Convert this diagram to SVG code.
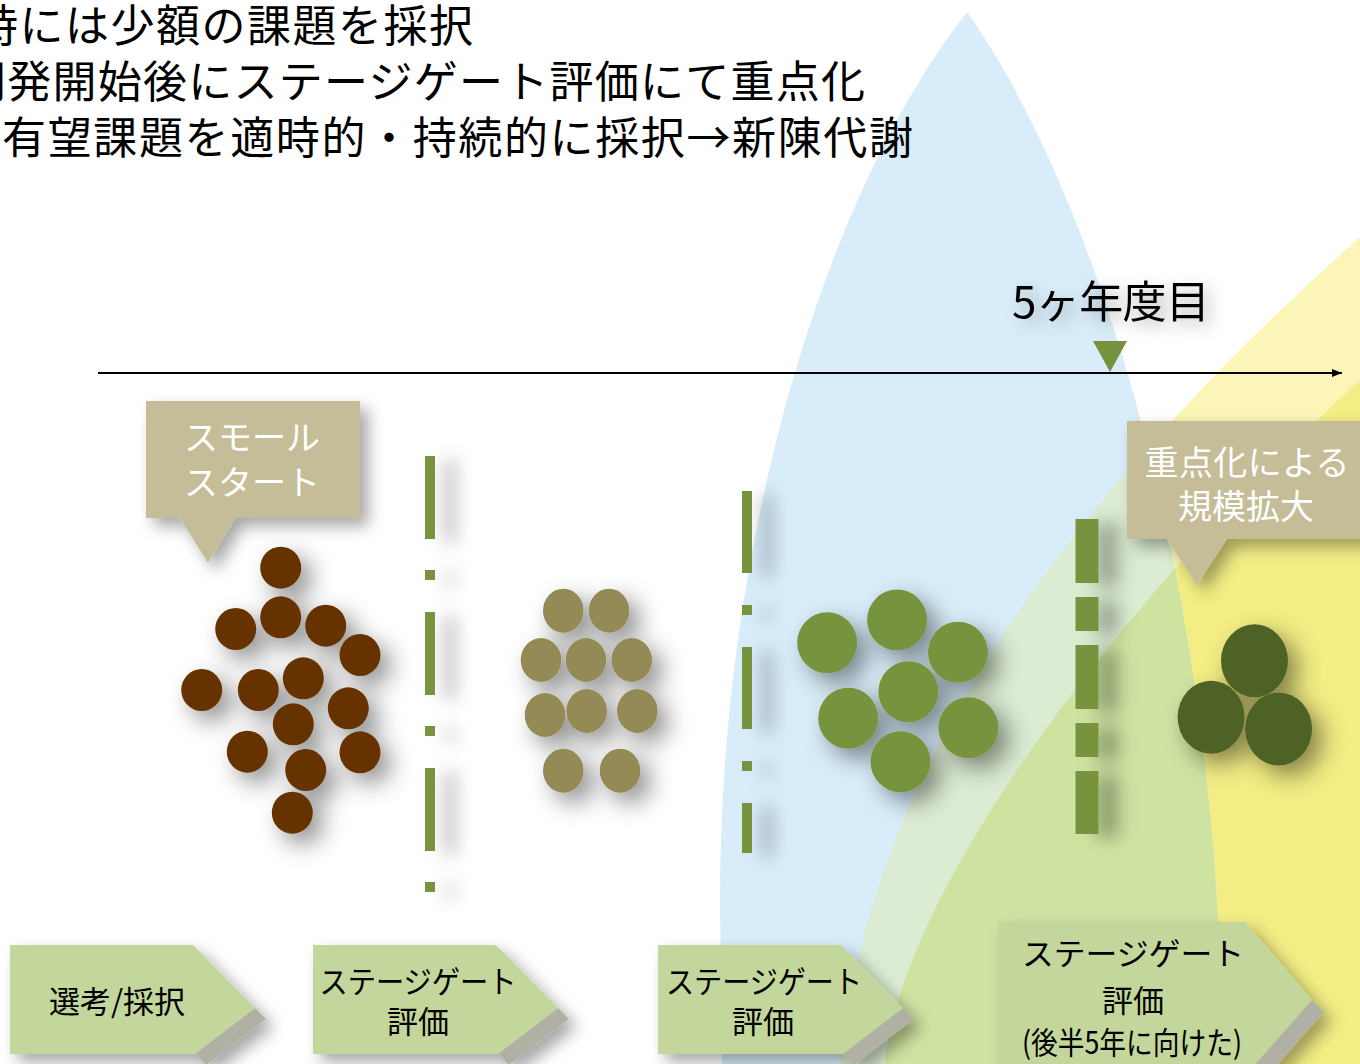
<svg xmlns="http://www.w3.org/2000/svg" width="1360" height="1064" viewBox="0 0 1360 1064">
<defs>
<style>
.jp{font-family:"Noto Sans CJK JP","Noto Sans",sans-serif}
.title{font-size:44px;fill:#000}
.call{font-size:34px;fill:#fff;text-anchor:middle}
.cbox{fill:#c4bd97}
.box{fill:#c3d69b}
.bevel{fill:#b0b0a4}
.lbl{font-size:31px;fill:#000;text-anchor:middle}
.gate{stroke:#77933c;fill:none}
.brown{fill:#663300}
.olive{fill:#948a54}
.green{fill:#77933c}
.dark{fill:#4f6228}
</style>
<path id="leafBlue" d="M967,12 C820,200 720,550 720,900 L722,1064 L1222,1064 C1222,600 1100,200 967,12 Z"/>
<path id="leafOuter" d="M839,1064 C870,800 1020,540 1360,237 L1360,1064 Z"/>
<path id="leafInner" d="M885,1064 C900,900 1100,620 1360,380 L1360,1064 Z"/>
<clipPath id="blueClip"><use href="#leafBlue"/></clipPath>
<filter id="sh" x="-40%" y="-40%" width="180%" height="180%"><feDropShadow dx="10" dy="10" stdDeviation="12" flood-color="#000" flood-opacity="0.45"/></filter>
<filter id="shLine" filterUnits="userSpaceOnUse" x="0" y="0" width="1360" height="1064"><feDropShadow dx="20" dy="4" stdDeviation="9" flood-color="#000" flood-opacity="0.3"/></filter>
<filter id="shBox" x="-20%" y="-30%" width="140%" height="160%"><feDropShadow dx="8" dy="8" stdDeviation="8" flood-color="#000" flood-opacity="0.35"/></filter>
<filter id="shText" x="-20%" y="-40%" width="140%" height="180%"><feDropShadow dx="6" dy="6" stdDeviation="8" flood-color="#000" flood-opacity="0.3"/></filter>
<marker id="arr" viewBox="0 0 10 8" refX="10" refY="4" markerWidth="10" markerHeight="8" markerUnits="userSpaceOnUse" orient="auto"><path d="M0,0 L10,4 L0,8 Z" fill="#000"/></marker>
</defs>

<g id="background">
<rect width="1360" height="1064" fill="#fff"/>
<use href="#leafOuter" fill="#fbf6b8"/>
<use href="#leafInner" fill="#f3ed84"/>
<use href="#leafBlue" fill="#d8edf9"/>
<g clip-path="url(#blueClip)">
<use href="#leafOuter" fill="#dbecd3"/>
<use href="#leafInner" fill="#cfe3a1"/>
</g>
</g>

<g id="title" class="jp title">
<text x="-26" y="42" textLength="499" lengthAdjust="spacing">時には少額の課題を採択</text>
<text x="-38" y="98" textLength="903" lengthAdjust="spacing">開発開始後にステージゲート評価にて重点化</text>
<text x="2" y="154" textLength="911" lengthAdjust="spacing">有望課題を適時的・持続的に採択→新陳代謝</text>
</g>

<g id="connectors">
<line x1="98" y1="373" x2="1342" y2="373" stroke="#000" stroke-width="2" marker-end="url(#arr)"/>
</g>

<g id="year5">
<text class="jp" x="1012" y="318" font-size="44" filter="url(#shText)" textLength="198" lengthAdjust="spacing">5ヶ年度目</text>
<path d="M1093,341 L1127,341 L1110,372 Z" fill="#77923c"/>
</g>

<g id="gate1" filter="url(#shLine)"><line class="gate" x1="430" y1="456" x2="430" y2="892" stroke-width="10" stroke-dasharray="83 31 10 32"/></g>
<g id="gate2" filter="url(#shLine)"><line class="gate" x1="747" y1="491" x2="747" y2="853" stroke-width="10" stroke-dasharray="82 32 10 32"/></g>
<g id="gate3" filter="url(#shLine)"><line class="gate" x1="1087" y1="519" x2="1087" y2="834" stroke-width="23" stroke-dasharray="64 14 34 14"/></g>

<g id="callout-small-start">
<path class="cbox" filter="url(#shBox)" d="M146,401 H360 V518 H235 L208,563 L180,518 H146 Z"/>
<text class="jp call" x="252" y="450">スモール</text>
<text class="jp call" x="252" y="495">スタート</text>
</g>

<g id="callout-scale-up">
<path class="cbox" filter="url(#shBox)" d="M1127,421 H1370 V539 H1227 L1197,585 L1167,539 H1127 Z"/>
<text class="jp call" x="1247" y="475" textLength="205" lengthAdjust="spacing">重点化による</text>
<text class="jp call" x="1246" y="519" font-size="35">規模拡大</text>
</g>

<g id="cluster-brown" class="brown" filter="url(#sh)">
<ellipse cx="280.7" cy="567.7" rx="20.5" ry="21"/>
<ellipse cx="235.7" cy="629" rx="20.5" ry="21"/>
<ellipse cx="280.7" cy="617.3" rx="20.5" ry="21"/>
<ellipse cx="325.7" cy="625.7" rx="20.5" ry="21"/>
<ellipse cx="360" cy="655" rx="20.5" ry="21"/>
<ellipse cx="201.7" cy="690" rx="20.5" ry="21"/>
<ellipse cx="258.3" cy="690" rx="20.5" ry="21"/>
<ellipse cx="303.3" cy="678.3" rx="20.5" ry="21"/>
<ellipse cx="348.3" cy="708.3" rx="20.5" ry="21"/>
<ellipse cx="293.3" cy="724.3" rx="20.5" ry="21"/>
<ellipse cx="247.3" cy="751.7" rx="20.5" ry="21"/>
<ellipse cx="360" cy="752.3" rx="20.5" ry="21"/>
<ellipse cx="305.7" cy="770" rx="20.5" ry="21"/>
<ellipse cx="292.3" cy="812.7" rx="20.5" ry="21"/>
</g>

<g id="cluster-olive" class="olive" filter="url(#sh)">
<ellipse cx="563.3" cy="610.7" rx="20.3" ry="22"/>
<ellipse cx="609" cy="610.7" rx="20.3" ry="22"/>
<ellipse cx="541" cy="660" rx="20.3" ry="22"/>
<ellipse cx="586" cy="660" rx="20.3" ry="22"/>
<ellipse cx="631.7" cy="660" rx="20.3" ry="22"/>
<ellipse cx="545" cy="715" rx="20.3" ry="22"/>
<ellipse cx="586.7" cy="711" rx="20.3" ry="22"/>
<ellipse cx="637.3" cy="711" rx="20.3" ry="22"/>
<ellipse cx="563.3" cy="770.7" rx="20.3" ry="22"/>
<ellipse cx="620" cy="770.7" rx="20.3" ry="22"/>
</g>

<g id="cluster-green" class="green" filter="url(#sh)">
<ellipse cx="827.2" cy="642.7" rx="30" ry="30.5"/>
<ellipse cx="897.1" cy="620" rx="30" ry="30.5"/>
<ellipse cx="958" cy="652.3" rx="30" ry="30.5"/>
<ellipse cx="908.4" cy="691.7" rx="30" ry="30.5"/>
<ellipse cx="848.2" cy="718.3" rx="30" ry="30.5"/>
<ellipse cx="968.4" cy="727.7" rx="30" ry="30.5"/>
<ellipse cx="900.5" cy="761.7" rx="30" ry="30.5"/>
</g>

<g id="cluster-dark" class="dark" filter="url(#sh)">
<ellipse cx="1254.5" cy="660.7" rx="33.5" ry="36.5"/>
<ellipse cx="1211.1" cy="717.3" rx="33.5" ry="36.5"/>
<ellipse cx="1278.6" cy="729" rx="33.5" ry="36.5"/>
</g>

<g id="step1">
<g filter="url(#shBox)">
<path class="bevel" d="M255,1008 L266,1019 L206,1065 L195,1054 Z"/>
<path class="box" d="M10,945 H193 L255,1008 L195,1054 H10 Z"/>
</g>
<text class="jp lbl" x="117" y="1013" font-size="32">選考/採択</text>
</g>

<g id="step2">
<g filter="url(#shBox)">
<path class="bevel" d="M558,1008 L569,1019 L509,1065 L498,1054 Z"/>
<path class="box" d="M313,945 H496 L558,1008 L498,1054 H313 Z"/>
</g>
<text class="jp lbl" x="418" y="993" textLength="197" lengthAdjust="spacingAndGlyphs">ステージゲート</text>
<text class="jp lbl" x="418" y="1033">評価</text>
</g>

<g id="step3">
<g filter="url(#shBox)">
<path class="bevel" d="M903,1008 L914,1019 L854,1065 L843,1054 Z"/>
<path class="box" d="M658,945 H841 L903,1008 L843,1054 H658 Z"/>
</g>
<text class="jp lbl" x="764" y="993" textLength="196" lengthAdjust="spacingAndGlyphs">ステージゲート</text>
<text class="jp lbl" x="763" y="1033">評価</text>
</g>

<g id="step4">
<g filter="url(#shBox)">
<path class="bevel" d="M1312,1000 L1324,1012 L1262,1082 L1250,1070 Z"/>
<path class="box" d="M998,922 H1245 L1312,1000 L1250,1070 H998 Z"/>
</g>
<text class="jp lbl" x="1133" y="965" font-size="35" textLength="222" lengthAdjust="spacingAndGlyphs">ステージゲート</text>
<text class="jp lbl" x="1133" y="1012" font-size="34">評価</text>
<text class="jp lbl" x="1132" y="1054" font-size="24" textLength="220" lengthAdjust="spacingAndGlyphs">(後半5年に向けた)</text>
</g>
</svg>
